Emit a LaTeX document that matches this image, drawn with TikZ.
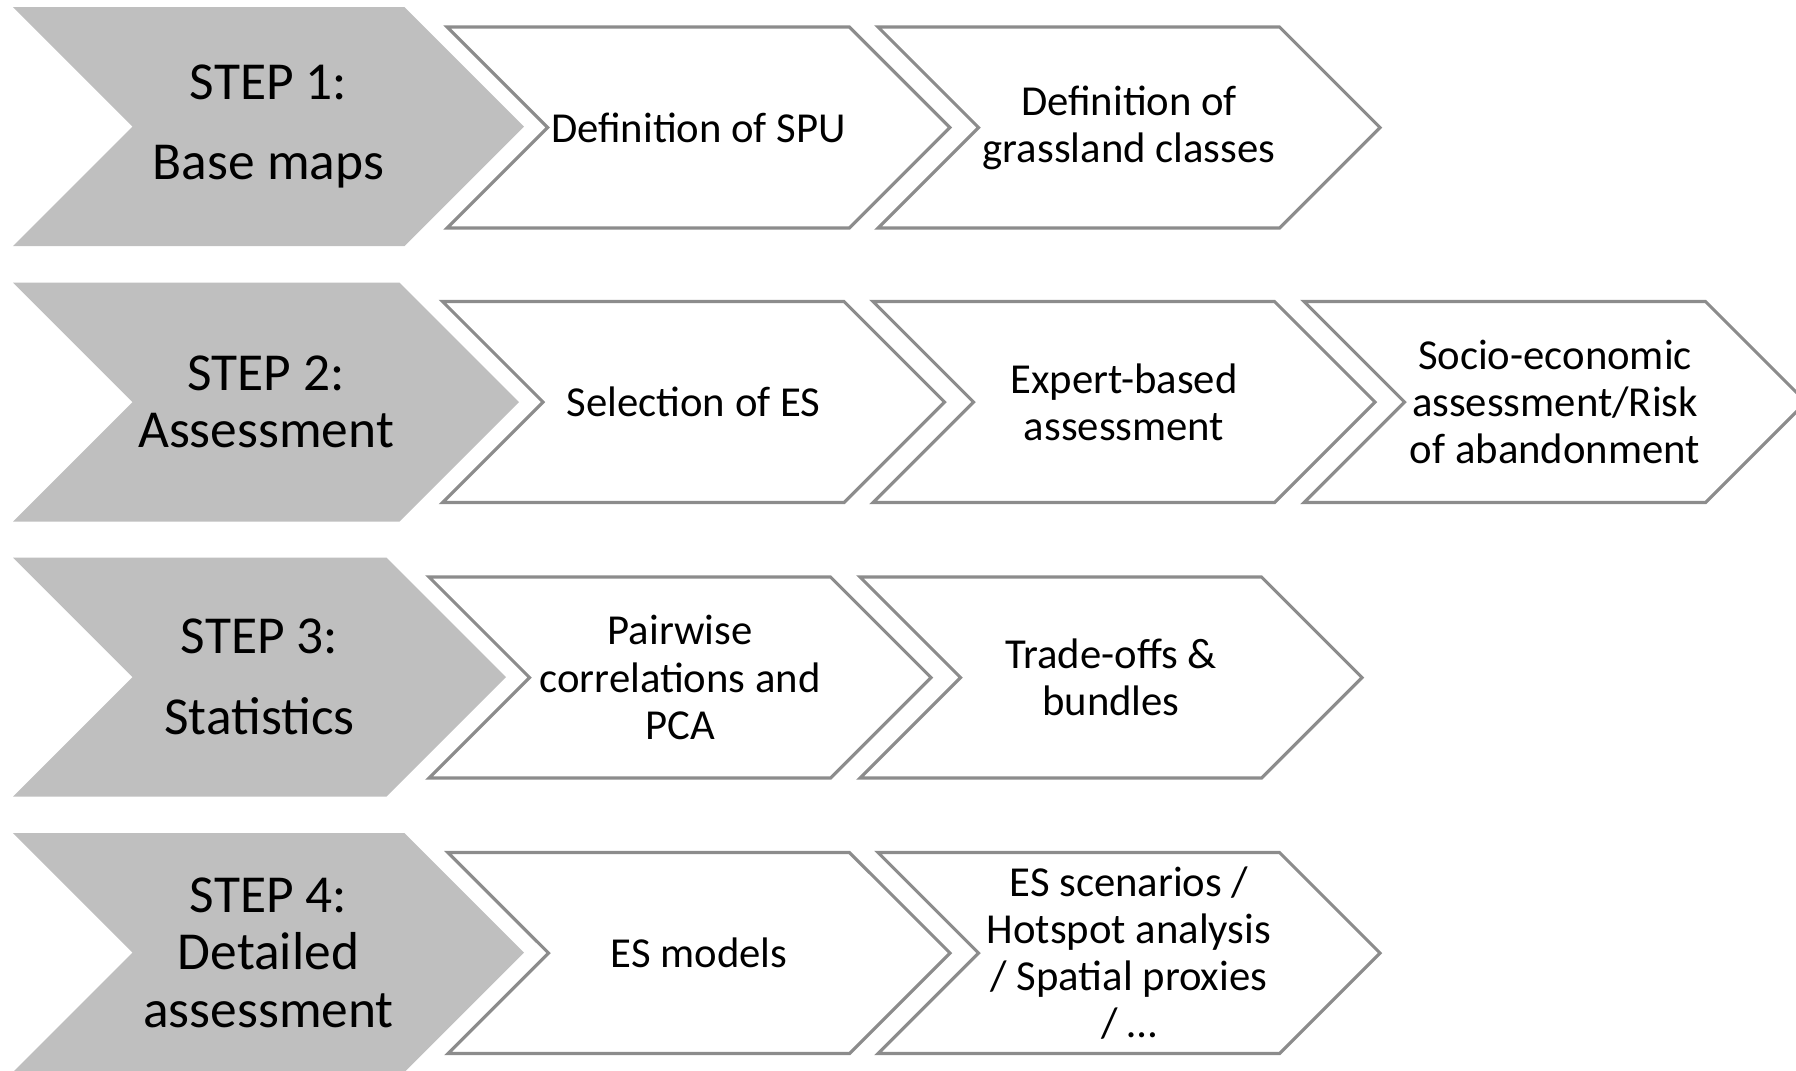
\documentclass[tikz,border=0pt]{standalone}
\usepackage{fontspec}
\setmainfont{Carlito}
\usepackage{tikz}
\usetikzlibrary{shapes.symbols}
\usetikzlibrary{positioning}
\definecolor{stepgray}{RGB}{191,191,191}
\definecolor{linegray}{RGB}{140,140,140}
\tikzset{stepchev/.style = {shape=signal, signal from=west, signal to=east, fill=stepgray, draw=none, minimum width=5.11cm, minimum height=2.39cm, align=center, inner sep=1pt, font=\fontsize{15.2}{16.4}\selectfont}}
\tikzset{taskchev/.style = {shape=signal, signal from=west, signal to=east, fill=white, draw=linegray, line width=0.9pt, minimum width=5.02cm, minimum height=2.01cm, align=center, inner sep=1pt, font=\fontsize{12.15}{13.4}\selectfont}}

\begin{document}
\begin{tikzpicture}[]
		\useasboundingbox (0,0) rectangle (17.96,-10.70);

		%step 1
		\node[stepchev](S1) at (2.685,-1.265){STEP 1:\\[6.5pt]Base maps};
		\node[taskchev](T11) at (6.985,-1.275){Definition of SPU};
		\node[taskchev](T12) at (11.29,-1.275){Definition of\\grassland classes};

		%step 2
		\node[stepchev, minimum width=5.06cm](S2) at (2.66,-4.02){STEP 2:\\Assessment};
		\node[taskchev](T21) at (6.935,-4.02){Selection of ES};
		\node[taskchev](T22) at (11.24,-4.02){Expert-based\\assessment};
		\node[taskchev](T23) at (15.55,-4.02){Socio-economic\\assessment/Risk\\of abandonment};

		%step 3
		\node[stepchev, minimum width=4.93cm](S3) at (2.595,-6.77){STEP 3:\\[6.5pt]Statistics};
		\node[taskchev](T31) at (6.80,-6.775){Pairwise\\correlations and\\PCA};
		\node[taskchev](T32) at (11.11,-6.775){Trade-offs \&\\bundles};

		%step 4
		\node[stepchev](S4) at (2.685,-9.525){STEP 4:\\Detailed\\assessment};
		\node[taskchev](T41) at (6.99,-9.53){ES models};
		\node[taskchev](T42) at (11.29,-9.53){ES scenarios /\\Hotspot analysis\\/ Spatial proxies\\/ \ldots};
\end{tikzpicture}
\end{document}
